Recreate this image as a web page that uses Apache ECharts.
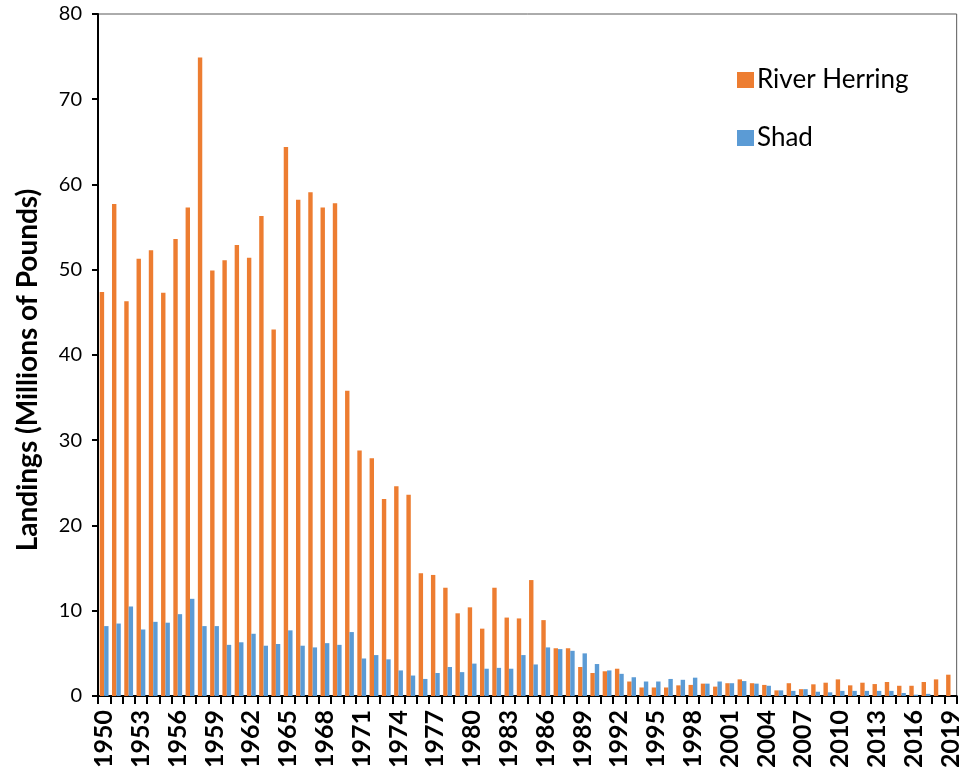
<!DOCTYPE html>
<html>
<head>
<meta charset="utf-8">
<title>River Herring and Shad Landings</title>
<script src="https://cdn.jsdelivr.net/npm/echarts@6/dist/echarts.min.js"></script>
<style>
  html, body { margin: 0; padding: 0; background: #ffffff; }
  #chart { width: 963px; height: 771px; }
</style>
</head>
<body>
<div id="chart"></div>
<script>
// Commercial landings, millions of pounds, 1950-2019
const years = [];
for (let y = 1950; y <= 2019; y++) years.push(String(y));

const riverHerring = [
  47.4, 57.7, 46.3, 51.3, 52.3, 47.3, 53.6, 57.3, 74.9, 49.9,
  51.1, 52.9, 51.4, 56.3, 43.0, 64.4, 58.2, 59.1, 57.3, 57.8,
  35.8, 28.8, 27.9, 23.1, 24.6, 23.6, 14.4, 14.2, 12.7, 9.7,
  10.4, 7.9, 12.7, 9.2, 9.1, 13.6, 8.9, 5.6, 5.6, 3.4,
  2.7, 2.9, 3.2, 1.7, 1.0, 1.0, 1.0, 1.25, 1.3, 1.45,
  1.1, 1.5, 1.95, 1.5, 1.3, 0.66, 1.5, 0.8, 1.37, 1.56,
  1.95, 1.25, 1.56, 1.4, 1.64, 1.2, 1.2, 1.64, 1.95, 2.5
];

const shad = [
  8.2, 8.5, 10.5, 7.8, 8.7, 8.6, 9.6, 11.4, 8.2, 8.2,
  6.0, 6.3, 7.3, 5.9, 6.1, 7.7, 5.9, 5.7, 6.2, 6.0,
  7.5, 4.4, 4.8, 4.3, 3.0, 2.4, 2.0, 2.7, 3.4, 2.8,
  3.8, 3.2, 3.3, 3.2, 4.8, 3.7, 5.7, 5.5, 5.3, 5.0,
  3.75, 3.0, 2.6, 2.2, 1.7, 1.7, 2.0, 1.9, 2.15, 1.45,
  1.7, 1.5, 1.75, 1.45, 1.2, 0.66, 0.6, 0.8, 0.5, 0.43,
  0.6, 0.6, 0.6, 0.6, 0.6, 0.35, 0.15, 0.25, 0, 0
];

const yTicks = { min: 0, max: 80, interval: 10 };

const FONT = 'Lato, "Open Sans", sans-serif';

const chart = echarts.init(document.getElementById('chart'), null, { renderer: 'canvas' });

chart.setOption({
  backgroundColor: '#ffffff',
  animation: false,
  textStyle: { fontFamily: FONT },
  grid: {
    left: 98, right: 3, top: 14, bottom: 74,
    show: true,
    borderColor: '#595959',
    borderWidth: 1,
    backgroundColor: 'transparent'
  },
  legend: {
    orient: 'vertical',
    left: 732,
    top: 62,
    itemWidth: 17,
    itemHeight: 16,
    itemGap: 32,
    icon: 'rect',
    textStyle: { fontFamily: FONT, fontSize: 26, color: '#000000', padding: [0, 0, 0, -2] },
    data: ['River Herring', 'Shad']
  },
  xAxis: {
    type: 'category',
    data: years,
    boundaryGap: true,
    axisLine: { show: true, lineStyle: { color: '#000000', width: 2 } },
    axisTick: { show: true, interval: 0, length: 8, lineStyle: { color: '#000000', width: 2 } },
    axisLabel: {
      interval: 2,
      rotate: 90,
      margin: 14,
      fontFamily: FONT,
      fontSize: 25,
      fontWeight: 'bold',
      color: '#000000'
    },
    splitLine: { show: false }
  },
  yAxis: {
    type: 'value',
    min: yTicks.min,
    max: yTicks.max,
    interval: yTicks.interval,
    name: 'Landings (Millions of Pounds)',
    nameLocation: 'middle',
    nameGap: 56,
    nameRotate: 90,
    nameTextStyle: {
      fontFamily: FONT, fontSize: 28, fontWeight: 'bold', color: '#000000',
      padding: [0, 30, 0, 0]
    },
    axisLine: { show: true, lineStyle: { color: '#000000', width: 2 } },
    axisTick: { show: true, length: 6, lineStyle: { color: '#000000', width: 2 } },
    axisLabel: { fontFamily: FONT, fontSize: 20, color: '#000000', margin: 16 },
    splitLine: { show: false }
  },
  series: [
    {
      name: 'River Herring',
      type: 'bar',
      data: riverHerring,
      barWidth: 4.4,
      barGap: '0%',
      itemStyle: { color: '#ED7D31' }
    },
    {
      name: 'Shad',
      type: 'bar',
      data: shad,
      barWidth: 4.4,
      itemStyle: { color: '#5B9BD5' }
    }
  ]
});
</script>
</body>
</html>
